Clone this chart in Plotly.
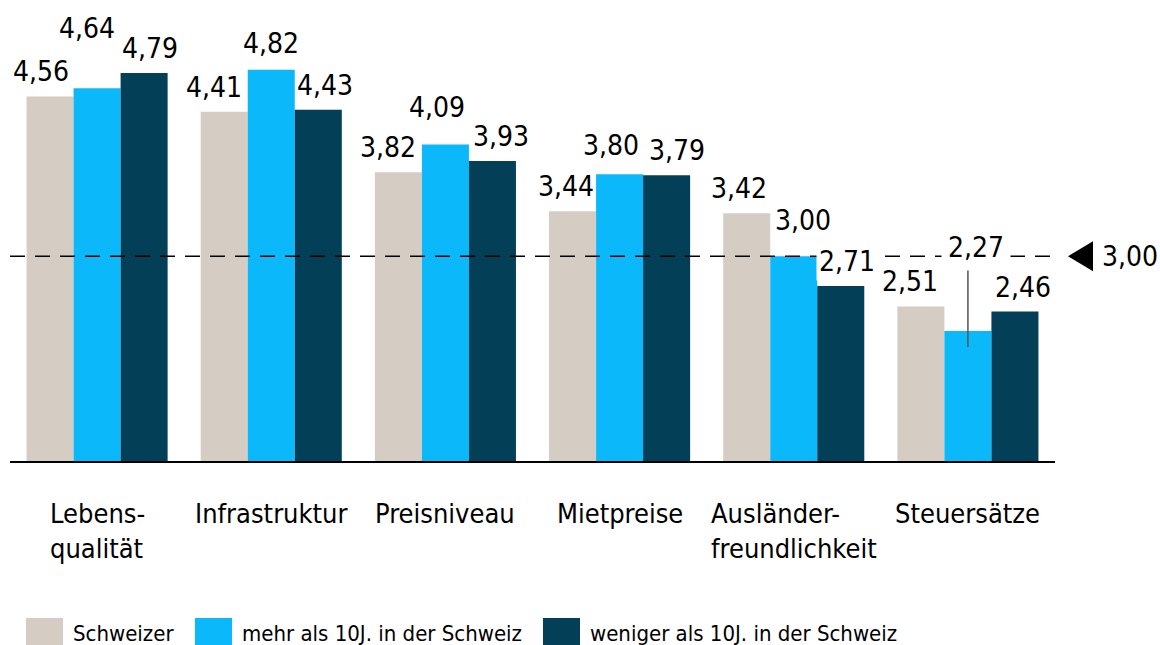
import plotly.graph_objects as go

categories = ["Lebensqualität", "Infrastruktur", "Preisniveau", "Mietpreise", "Ausländerfreundlichkeit", "Steuersätze"]
category_labels = ["Lebens-<br>qualität", "Infrastruktur", "Preisniveau", "Mietpreise", "Ausländer-<br>freundlichkeit", "Steuersätze"]
series_names = ["Schweizer", "mehr als 10J. in der Schweiz", "weniger als 10J. in der Schweiz"]
schweizer = [4.56, 4.41, 3.82, 3.44, 3.42, 2.51]
mehr_10j = [4.64, 4.82, 4.09, 3.80, 3.00, 2.27]
weniger_10j = [4.79, 4.43, 3.93, 3.79, 2.71, 2.46]
reference_value = 3.00

series = [schweizer, mehr_10j, weniger_10j]
colors = ["#d5ccc4", "#0bb9fa", "#033f57"]

# label placement styling (pixels above bar top, horizontal shift)
label_lift = [
    [14, 14, 14, 14, 14, 14],
    [49, 16, 27, 18, 25, 73],
    [14, 14, 14, 14, 14, 14],
]
label_xshift = [
    [-9, -10, -10, -7, -8, -11],
    [-10, 0, -8, -9, 9, 8],
    [6, 7, 9, 10, 6, 8],
]
label_pad = [
    [0] * 6,
    [0, 0, 0, 0, 0, 6],
    [0, 0, 0, 0, 2, 0],
]
leader_line = [
    [False] * 6,
    [False, False, False, False, False, True],
    [False] * 6,
]

FONT = "DejaVu Sans Condensed, Liberation Sans Narrow, Arial Narrow, sans-serif"
VSIZE = 28
L, R, T, B = 10, 105, 0, 184
W, H = 1160, 645
PW, PH = W - L - R, H - T - B
BARGAP = 0.19
bw = (1 - BARGAP) / 3

def px(xp):
    return (xp - L) / PW

def py(yp):
    return (H - B - yp) / PH

fig = go.Figure()
for name, vals, col in zip(series_names, series, colors):
    fig.add_trace(go.Bar(x=categories, y=vals, name=name, marker=dict(color=col, line=dict(width=0)),
                         showlegend=False, hoverinfo="skip"))

annotations = []
shapes = []
for j, vals in enumerate(series):
    for i, v in enumerate(vals):
        xpos = i + (j - 1) * bw
        txt = f"{v:.2f}".replace(".", ",")
        pad = label_pad[j][i]
        bg = "white" if pad else "rgba(0,0,0,0)"
        annotations.append(dict(x=xpos, y=v, xref="x", yref="y", text=txt, showarrow=False,
                                yanchor="bottom", xanchor="center", yshift=label_lift[j][i] - 7 - pad,
                                xshift=label_xshift[j][i], bgcolor=bg, borderpad=pad,
                                font=dict(family=FONT, size=VSIZE, color="black")))
        if leader_line[j][i]:
            shapes.append(dict(type="line", xref="x", yref="y", ysizemode="pixel", yanchor=v,
                               x0=xpos, x1=xpos, y0=-16, y1=label_lift[j][i] - 6,
                               line=dict(color="#555555", width=1.5), layer="above"))

for i, lab in enumerate(category_labels):
    annotations.append(dict(x=i, y=0, xref="x", yref="paper", text=lab, showarrow=False,
                            yanchor="top", xanchor="center", align="left", yshift=-35,
                            font=dict(family=FONT, size=27, color="black")))

annotations.append(dict(x=1, y=reference_value, xref="paper", yref="y",
                        text=f"{reference_value:.2f}".replace(".", ","), showarrow=False,
                        xanchor="left", yanchor="middle", xshift=45,
                        font=dict(family=FONT, size=VSIZE, color="black")))

shapes += [
    dict(type="line", xref="paper", yref="y", x0=0, x1=1, y0=reference_value, y1=reference_value,
         line=dict(color="black", width=1.6, dash="15px,10px"), layer="above"),
    dict(type="path", xref="paper", yref="y", xsizemode="pixel", ysizemode="pixel",
         xanchor=1, yanchor=reference_value, path="M 13 0 L 38 15 L 38 -15 Z",
         fillcolor="black", line=dict(width=0)),
]

leg_boxes = [(26, 63), (195, 232), (543, 580)]
for (x0, x1), name, col in zip(leg_boxes, series_names, colors):
    shapes.append(dict(type="rect", xref="paper", yref="paper", x0=px(x0), x1=px(x1),
                       y0=py(650), y1=py(618), fillcolor=col, line=dict(width=0)))
    annotations.append(dict(x=px(x1 + 8), y=py(633), xref="paper", yref="paper", text=name,
                            showarrow=False, xanchor="left", yanchor="middle",
                            font=dict(family=FONT, size=22, color="black")))

fig.update_layout(
    width=W, height=H,
    margin=dict(l=L, r=R, t=T, b=B),
    barmode="group", bargap=BARGAP, bargroupgap=0,
    plot_bgcolor="white", paper_bgcolor="white",
    xaxis=dict(showticklabels=False, ticks="", showgrid=False, showline=True,
               linecolor="black", linewidth=2, zeroline=False),
    yaxis=dict(range=[1, 1 + PH / 102.4], showticklabels=False, showgrid=False,
               zeroline=False, showline=False),
    annotations=annotations, shapes=shapes,
    font=dict(family=FONT),
    hovermode=False,
)

fig.write_html("out.html", config={"displayModeBar": False},
               post_script="document.body.style.margin='0';document.body.style.overflow='hidden';")
